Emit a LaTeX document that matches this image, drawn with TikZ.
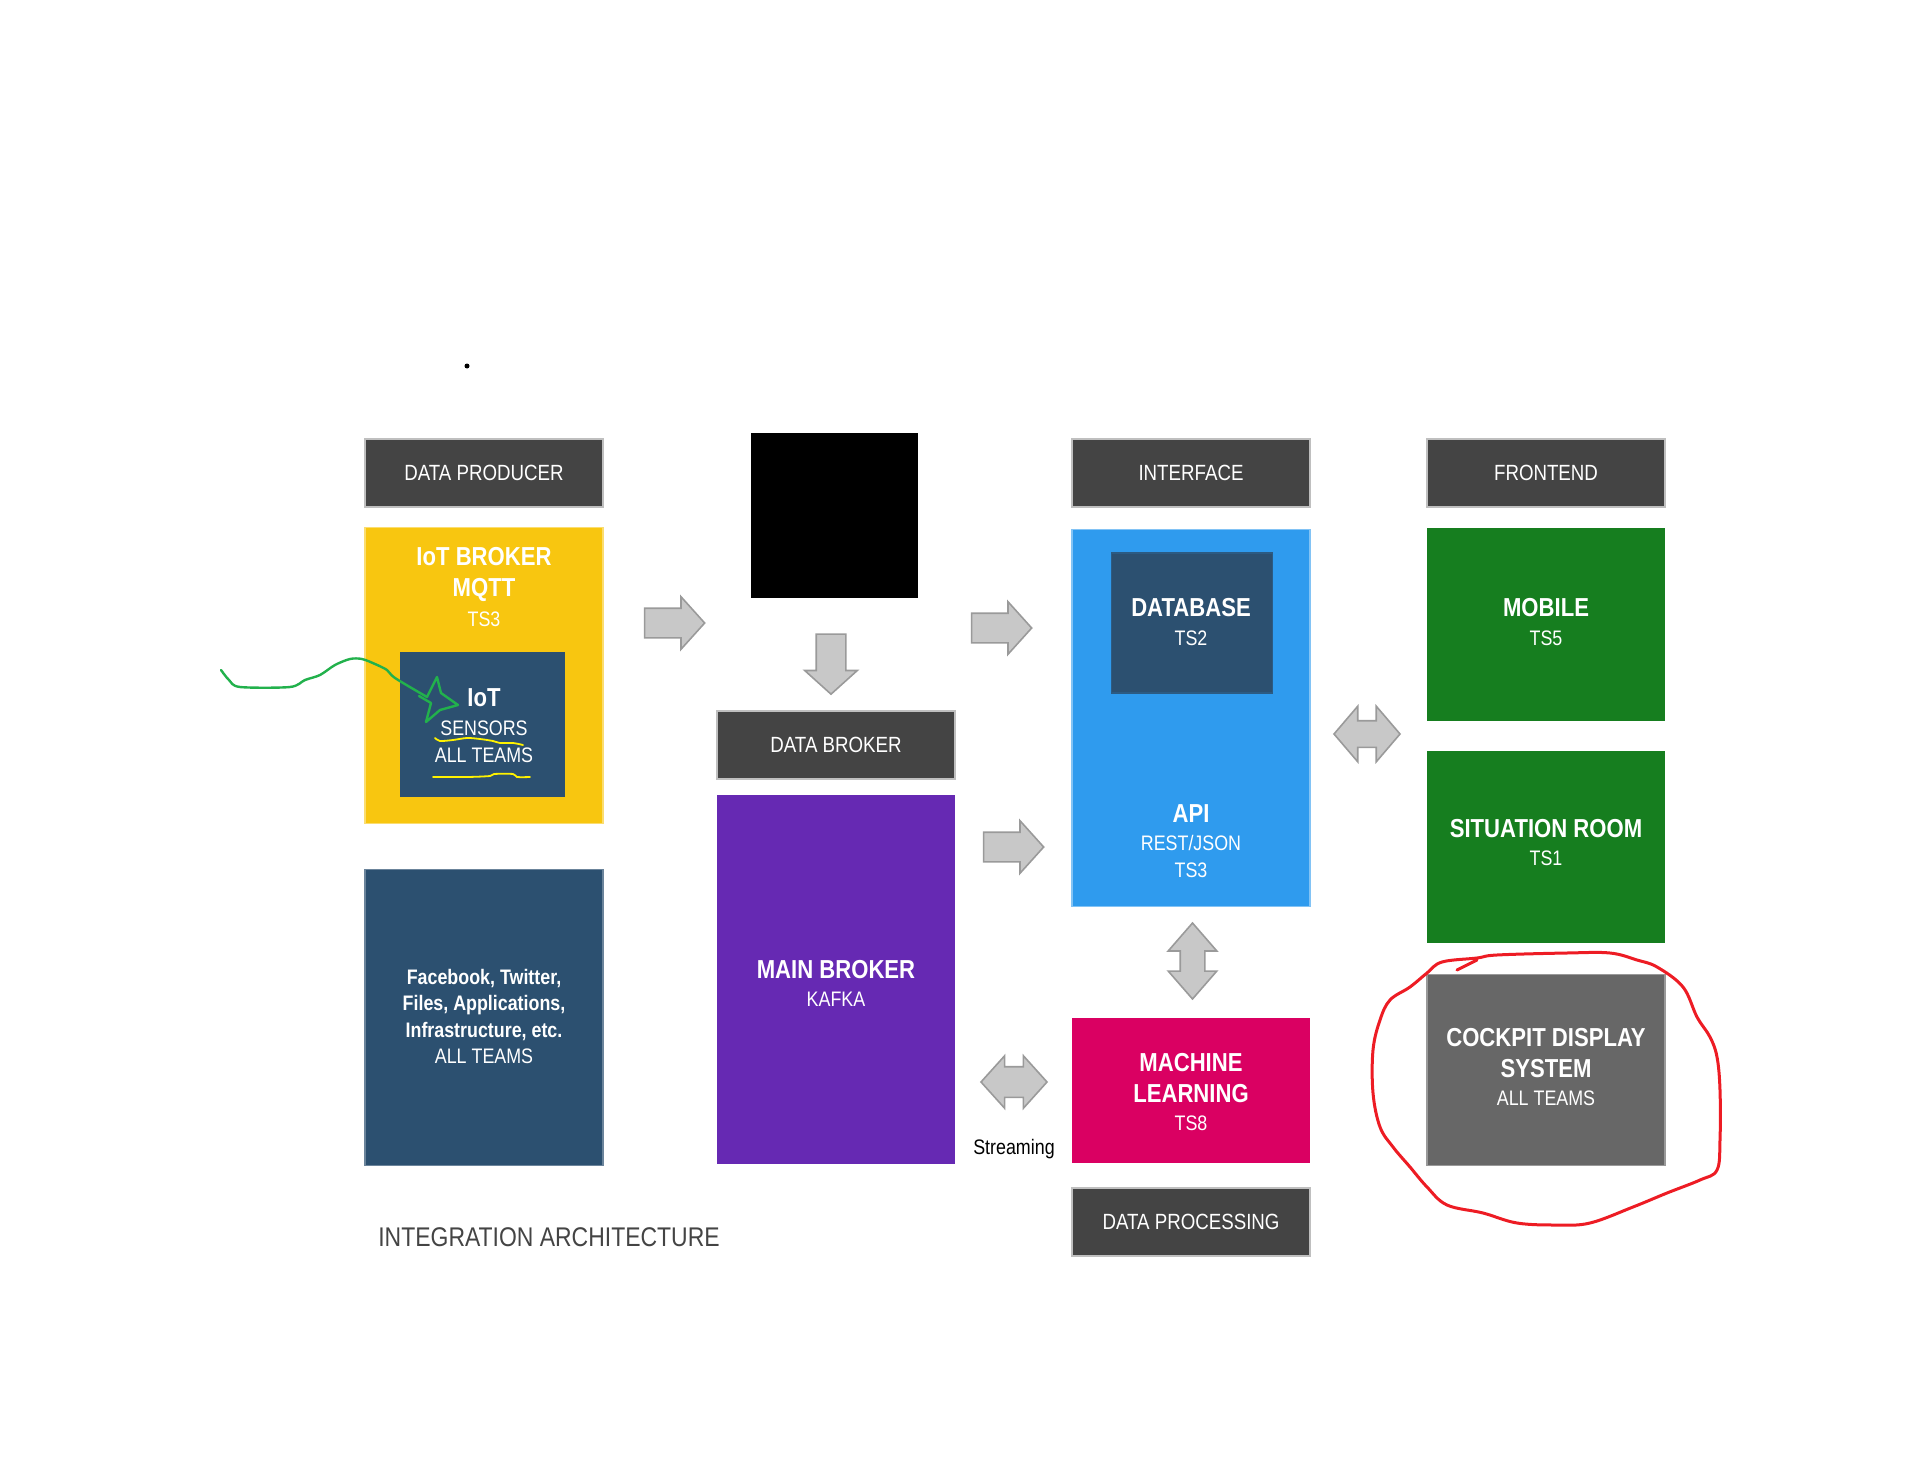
\documentclass[tikz,border=0pt]{standalone}
\usepackage{fontspec}
\setmainfont{Liberation Sans}[FakeStretch=0.85]
\usepackage{tikz}
\usetikzlibrary{positioning,shapes.arrows}
\definecolor{headgray}{HTML}{444444}
\definecolor{iotyellow}{HTML}{F8C610}
\definecolor{navy}{HTML}{2C5070}
\definecolor{kafkapurple}{HTML}{6629B3}
\definecolor{apiblue}{HTML}{2F9BEE}
\definecolor{frontgreen}{HTML}{167E1F}
\definecolor{mlpink}{HTML}{DA0062}
\definecolor{cockpitgray}{HTML}{676767}
\definecolor{arrowfill}{HTML}{C8C8C8}
\definecolor{arrowedge}{HTML}{9A9A9A}
\definecolor{redpen}{HTML}{ED1C24}
\definecolor{greenpen}{HTML}{22B14C}
\definecolor{yellowpen}{HTML}{FFF200}
\tikzset{
    block/.style={
           rectangle,
           inner sep=0pt,
           minimum width=119pt,
           text=white
           },
    header/.style={
           block,
           fill=headgray,
           draw=black!25, line width=0.6pt,
           minimum height=34pt,
           font=\fontsize{11pt}{13pt}\selectfont
           },
    title/.style={
           text=white,
           align=center,
           inner sep=0pt,
           font=\bfseries\fontsize{13pt}{15.5pt}\selectfont
           },
    sub/.style={
           text=white,
           align=center,
           inner sep=0pt,
           font=\fontsize{10.5pt}{13.5pt}\selectfont
           },
    fatarrow/.style={
           single arrow,
           draw=arrowedge, fill=arrowfill, line width=0.8pt,
           inner sep=0pt,
           text height=7pt, text depth=7pt,
           single arrow head extend=5.75pt,
           single arrow tip angle=96,
           minimum height=30pt
           },
    twoarrow/.style={
           double arrow,
           draw=arrowedge, fill=arrowfill, line width=0.8pt,
           inner sep=0pt
           },
}
\begin{document}
\begin{tikzpicture}[x=0.5pt,y=-0.5pt]
    \useasboundingbox (0,0) rectangle (1906,1482);

    % headers
    \node[header] (prodhead)   at (484,473)  {DATA PRODUCER};
    \node[header] (interhead)  at (1191,473) {INTERFACE};
    \node[header] (fronthead)  at (1546,473) {FRONTEND};
    \node[header] (brokerhead) at (836,745)  {DATA BROKER};

    % producer column
    \node[block, fill=iotyellow, draw=iotyellow!60!white, line width=0.8pt,
          minimum height=148pt, below=9.5pt of prodhead] (iotbroker) {};
    \node[block, fill=navy, draw=navy!70!white, line width=0.6pt,
          minimum height=148pt, below=22.5pt of iotbroker] (social) {};
    \node[block, fill=navy, minimum width=82.5pt, minimum height=72.5pt]
          (iotsensors) at (482.5,724.5) {};

    \node[title] (iottitle) at (484,574) {IoT BROKER\\MQTT};
    \node[sub]   (iotts)    at (484,619) {TS3};
    \node[title] (sensname) at (484,698) {IoT};
    \node[sub]   (sensteam) at (484,741.5) {SENSORS\\ALL TEAMS};
    \node[sub, font=\bfseries\fontsize{10.5pt}{13.2pt}\selectfont] (socialtext) at (484,1016.5)
          {Facebook, Twitter,\\Files, Applications,\\Infrastructure, etc.\\\mdseries ALL TEAMS};

    % broker column
    \node[block, fill=black, minimum width=83.5pt, minimum height=82.5pt]
          (blackbox) at (834.5,515.5) {};
    \node[block, fill=kafkapurple, minimum height=184.5pt,
          below=7.5pt of brokerhead] (mainbroker) {};
    \node[title] (kafkaname) at (836,970) {MAIN BROKER};
    \node[sub]   (kafkasub)  at (836,999) {KAFKA};

    % interface column
    \node[block, fill=apiblue, draw=apiblue!60!white, line width=0.6pt,
          minimum height=188.5pt, below=10.5pt of interhead] (apibox) {};
    \node[block, fill=navy, draw=navy!85!apiblue, line width=0.6pt,
          minimum width=80.5pt, minimum height=70pt] (database) at (1192,623) {};
    \node[title] (dbname) at (1191,608) {DATABASE};
    \node[sub]   (dbts)   at (1191,638) {TS2};
    \node[title] (apiname) at (1191,814) {API};
    \node[sub]   (apisub)  at (1191,856.5) {REST/JSON\\TS3};

    \node[block, fill=mlpink, minimum height=72.5pt] (mlbox) at (1191,1090.5) {};
    \node[header, below=12pt of mlbox] (prochead) {DATA PROCESSING};
    \node[title] (mlname) at (1191,1078) {MACHINE\\LEARNING};
    \node[sub]   (mlts)   at (1191,1123) {TS8};

    % frontend column
    \node[block, fill=frontgreen, minimum height=96.5pt,
          below=10pt of fronthead] (mobile) {};
    \node[block, fill=frontgreen, minimum height=96pt,
          below=14.5pt of mobile] (situation) {};
    \node[block, fill=cockpitgray, draw=black!40, line width=0.6pt,
          minimum height=95.5pt, below=15.5pt of situation] (cockpit) {};
    \node[title] (mobname) at (1546,608) {MOBILE};
    \node[sub]   (mobts)   at (1546,638) {TS5};
    \node[title] (sitname) at (1546,829) {SITUATION ROOM};
    \node[sub]   (sitts)   at (1546,858) {TS1};
    \node[title] (cdsname) at (1546,1053.5) {COCKPIT DISPLAY\\SYSTEM};
    \node[sub]   (cdsteam) at (1546,1098) {ALL TEAMS};

    % block arrows
    \node[fatarrow] (toblack) at (668,623) {};
    \node[fatarrow, rotate=-90] (tokafka) at (831,657.5) {};
    \node[fatarrow] (todb)  at (995,628) {};
    \node[fatarrow] (toapi) at (1007,847) {};
    \node[twoarrow, text height=6.25pt, text depth=6.25pt,
          double arrow head extend=7.25pt, double arrow tip angle=99,
          minimum height=33pt] (frontlink) at (1367,734) {};
    \node[twoarrow, rotate=90, text height=5.75pt, text depth=5.75pt,
          double arrow head extend=6pt, double arrow tip angle=82,
          minimum height=38pt] (mllink) at (1192.5,961) {};
    \node[twoarrow, text height=7.25pt, text depth=7.25pt,
          double arrow head extend=5.5pt, double arrow tip angle=96,
          minimum height=33pt] (streamlink) at (1014,1082) {};
    \node[font=\fontsize{10.5pt}{12pt}\selectfont, inner sep=0pt]
          (streamtext) at (1014,1149) {Streaming};

    \node[font=\fontsize{13.5pt}{15pt}\selectfont, text=headgray, inner sep=0pt]
          (caption) at (549,1237) {INTEGRATION ARCHITECTURE};

    % stray dot
    \fill (467,366) circle (2.5);

    % hand drawn marks
    \draw[greenpen, line width=1.2pt, line cap=round, line join=round]
        plot[smooth] coordinates {(221,670) (229,680) (240,687) (290,687) (305,680)
        (320,675) (335,665) (350,659) (362,659) (375,664) (387,670) (395,678) (427,697)};
    \draw[greenpen, line width=1.2pt, line cap=round, line join=round]
        (427,697) -- (437,677) -- (441,693) -- (458,705) -- (440,710) -- (426,722)
        -- (431,703) -- (419,696);
    \draw[yellowpen, line width=0.9pt, line cap=round]
        plot[smooth] coordinates {(435,738) (440,741) (453,740) (467,738) (480,739)
        (493,741) (500,743) (513,743) (523,745)};
    \draw[yellowpen, line width=0.9pt, line cap=round]
        plot[smooth] coordinates {(433,777) (467,777) (490,776) (494,774) (513,774)
        (517,777) (530,777)};
    \draw[redpen, line width=1.5pt, line join=round]
        plot[smooth cycle, tension=0.6] coordinates {(1497,955) (1567,953) (1610,953)
        (1637,960) (1657,967) (1683,987) (1697,1017) (1710,1037) (1717,1057)
        (1720,1090) (1720,1140) (1717,1170) (1700,1180) (1667,1193) (1633,1207)
        (1590,1223) (1557,1225) (1517,1223) (1483,1213) (1447,1205) (1427,1187)
        (1410,1167) (1393,1147) (1380,1127) (1373,1093) (1373,1050) (1380,1020)
        (1390,1000) (1410,987) (1427,973) (1442,962) (1477,958)};
    \draw[redpen, line width=1.5pt, line cap=round] (1457,970) -- (1477,960);
\end{tikzpicture}
\end{document}
